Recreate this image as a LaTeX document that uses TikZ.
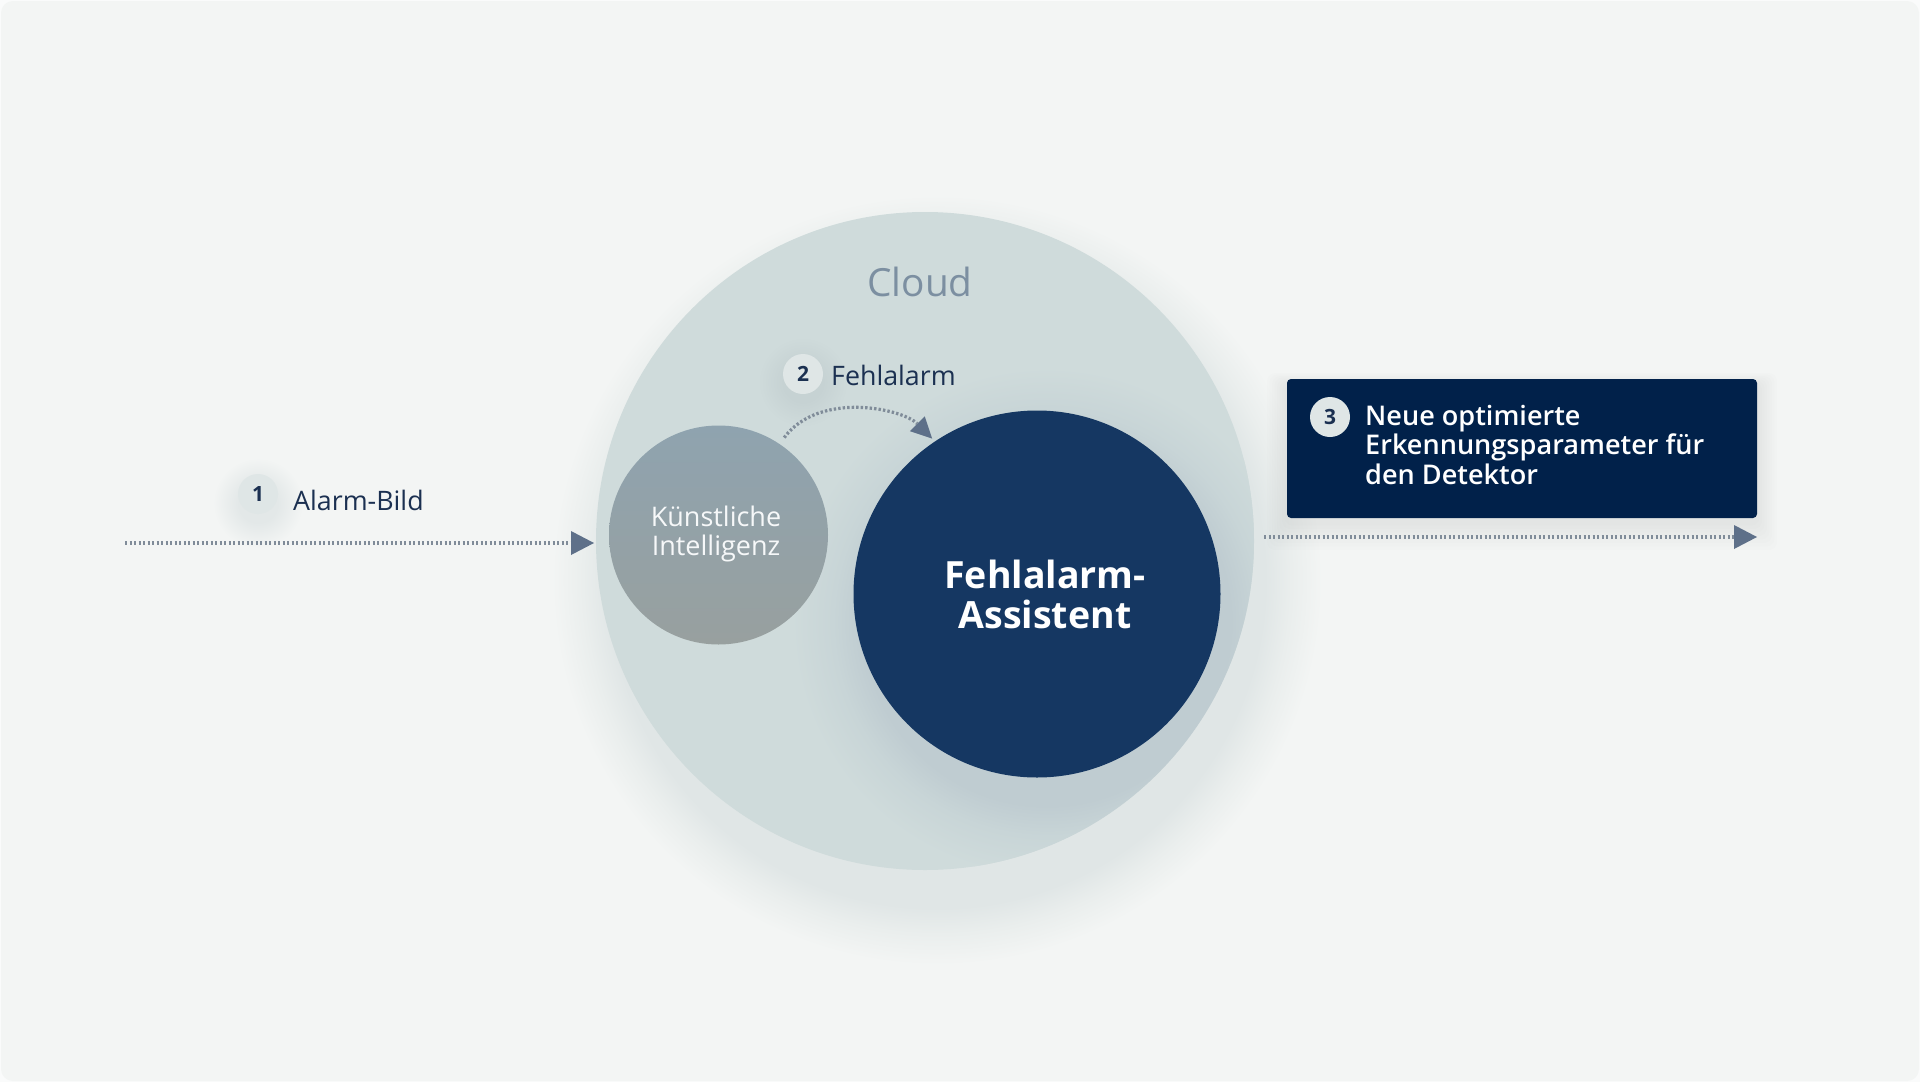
\documentclass[tikz,border=0pt]{standalone}
\usepackage{fontspec}
\setmainfont{Open Sans}
\newfontfamily\osb{Open Sans Semibold}
\usetikzlibrary{arrows.meta}
\definecolor{bgc}{HTML}{F3F5F4}
\definecolor{cloudc}{HTML}{CFDBDB}
\definecolor{cloudtxt}{HTML}{7C8FA1}
\definecolor{kitop}{HTML}{8FA3AF}
\definecolor{kibot}{HTML}{98A09F}
\definecolor{fac}{HTML}{153762}
\definecolor{boxc}{HTML}{01214A}
\definecolor{navytxt}{HTML}{1B3051}
\definecolor{badgec}{HTML}{DFE6E6}
\definecolor{dotc}{HTML}{808C99}
\definecolor{tipc}{HTML}{5E7089}
\definecolor{shA}{HTML}{E0E6E6}
\definecolor{shB}{HTML}{EAEEED}
\definecolor{faA}{HTML}{BFCCD1}
\definecolor{faB}{HTML}{C8D5D7}
\definecolor{bsA}{HTML}{E3E8E8}
\definecolor{bsB}{HTML}{C6D2D3}
\pgfdeclareradialshading{cloudshadow}{\pgfpoint{0bp}{0bp}}{color(0bp)=(shA); color(21.3bp)=(shA); color(23bp)=(shB); color(25bp)=(bgc); color(50bp)=(bgc)}
\pgfdeclareradialshading{fashadow}{\pgfpoint{0bp}{0bp}}{color(0bp)=(faA); color(18bp)=(faA); color(21bp)=(faB); color(25bp)=(cloudc); color(50bp)=(cloudc)}
\pgfdeclareradialshading{badgeshadowA}{\pgfpoint{0bp}{0bp}}{color(0bp)=(bsA); color(11bp)=(bsA); color(25bp)=(bgc); color(50bp)=(bgc)}
\pgfdeclareradialshading{badgeshadowB}{\pgfpoint{0bp}{0bp}}{color(0bp)=(bsB); color(11bp)=(bsB); color(25bp)=(cloudc); color(50bp)=(cloudc)}
\tikzset{
  fs/.style={font=\fontsize{#1}{#1}\selectfont},
  badge/.style={circle, fill=badgec, minimum size=40pt, inner sep=0pt,
    text=navytxt, font=\fontsize{21}{21}\selectfont\bfseries},
  dotline/.style={draw=dotc, line width=3.2pt, dash pattern=on 2.4pt off 2.1pt},
  bigtip/.style={-{Triangle[length=23pt,width=24pt,color=tipc,line width=0pt]}},
  smalltip/.style={-{Triangle[length=21pt,width=21pt,color=tipc,line width=0pt]}},
}
\begin{document}
\begin{tikzpicture}[x=1pt,y=-1pt]
\useasboundingbox (0,0) rectangle (1920,1082);
\fill[white!60!bgc] (0,0) rectangle (1920,1082);
\fill[bgc, rounded corners=12pt] (1,1) rectangle (1919,1081);

% shadows on background
\shade[shading=cloudshadow] (937,580) circle[radius=385];
\shade[shading=badgeshadowA] (258,503) circle[radius=45];
\foreach \i in {1,...,8}
  \fill[black, opacity=0.008, rounded corners=8pt] (1287-\i*2.5,385-\i*1.5) rectangle (1757+\i*2.5,522+\i*3.5);

% cloud
\node[circle, fill=cloudc, minimum size=658pt, inner sep=0pt, outer sep=2pt] (cloud) at (925,541) {};
\begin{scope}
  \clip (925,541) circle[radius=329];
  \shade[shading=fashadow] (1047,622) circle[radius=255];
  \shade[shading=badgeshadowB] (803,382) circle[radius=45];
\end{scope}
\node[fs=38.8, text=cloudtxt, anchor=base] (cloudlbl) at (920,296) {Cloud};

% KI
\node[circle, top color=kitop, bottom color=kibot, minimum size=219pt, inner sep=0pt, outer sep=8pt] (ki) at (718.5,535) {};
\node[font={\fontsize{27}{29}\selectfont}, text=white!92!kitop, align=center, inner sep=0pt] (kitxt) at (716,533.5)
  {Künstliche\\Intelligenz};

% FA
\node[circle, fill=fac, minimum size=367pt, inner sep=0pt, outer sep=4pt] (fa) at (1037,594) {};
\node[font={\fontsize{37.5}{40}\selectfont\bfseries}, text=white, align=center, inner sep=0pt] (fatxt) at (1045,594.5)
  {Fehlalarm-\\Assistent};

% step 1
\coordinate (in) at (125,543);
\node[badge] (b1) at (258,494) {1};
\node[fs=26.8, text=navytxt, anchor=base west, inner sep=0pt] (l1) at (293,510) {Alarm-Bild};
\draw[dotline, bigtip] (in) -- (in -| cloud.west);

% step 2
\node[badge] (b2) at (803,374) {2};
\node[fs=26.8, text=navytxt, anchor=base west, inner sep=0pt] (l2) at (831,385) {Fehlalarm};
\draw[dotline, smalltip] (ki.56) .. controls +(35,-47) and +(-30,-30) .. (fa.124);

% step 3
\node[fill=boxc, rounded corners=4pt, minimum width=470pt, minimum height=139pt, inner sep=0pt] (box) at (1522,448.5) {};
\node[badge] (b3) at (1330,417) {3};
\node[font={\fontsize{27.1}{29.3}\selectfont\osb}, text=white, align=left, anchor=north west, inner sep=0pt] (l3) at (1365,405)
  {Neue optimierte\\Erkennungsparameter für\\den Detektor};
\coordinate (out) at (1757,537);
\draw[dotline, bigtip] ([xshift=8pt]cloud.east |- out) -- (out);
\end{tikzpicture}
\end{document}
